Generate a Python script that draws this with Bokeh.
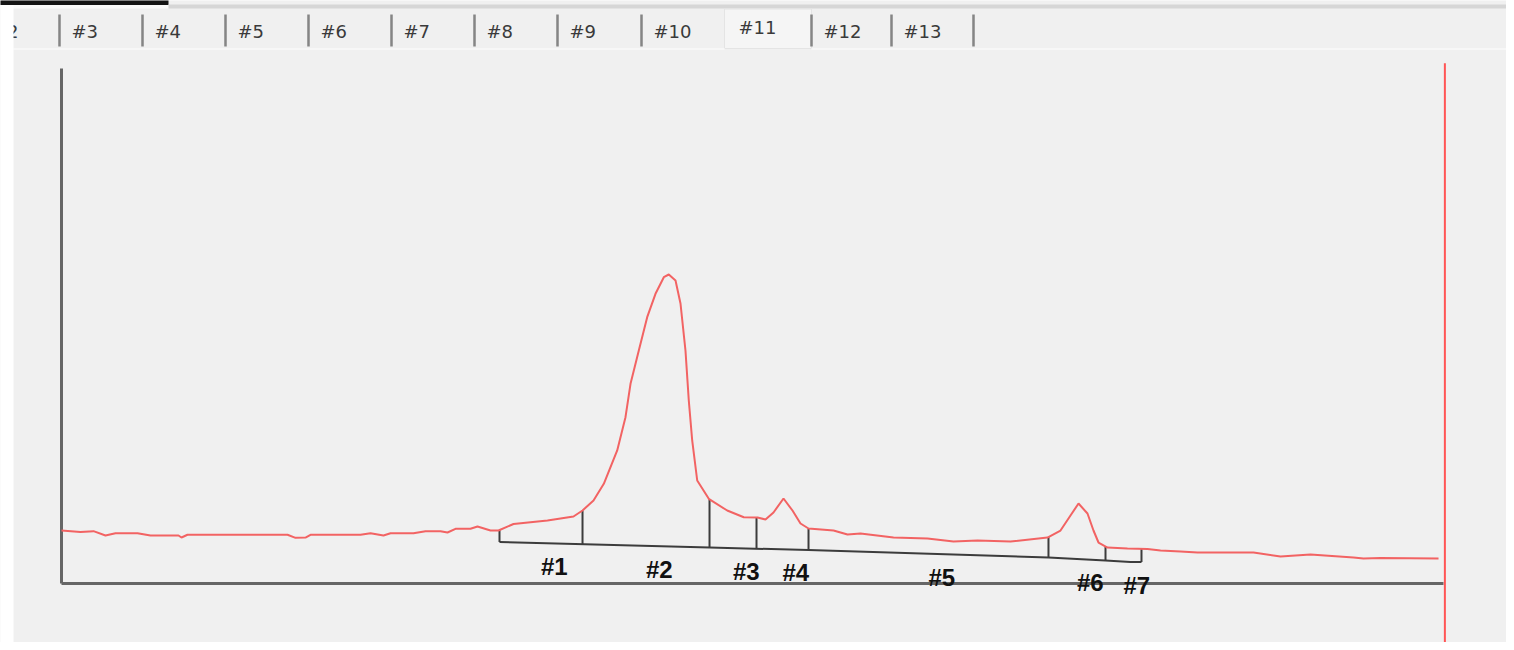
import numpy as np
from bokeh.plotting import figure
from bokeh.models import Range1d
from bokeh.core.properties import value
from bokeh.embed import file_html
from bokeh.resources import INLINE

# ---------------- data ----------------
# visible tab captions (the first one is cut by the window edge, only its "2" shows)
TAB_LABELS = ["2", "#3", "#4", "#5", "#6", "#7", "#8", "#9", "#10", "#11", "#12", "#13"]
SELECTED_TAB = "#11"

# chromatogram trace: time (min) and signal
TIME = [0.000, 0.412, 0.695, 0.955, 1.172, 1.650, 1.932, 2.540, 2.605, 2.735,
        4.906, 5.080, 5.297, 5.405, 6.491, 6.708, 6.990, 7.142, 7.641, 7.902,
        8.227, 8.379, 8.553, 8.878, 9.030, 9.313, 9.486, 9.812, 10.550, 11.114,
        11.310, 11.549, 11.772, 12.063, 12.243, 12.352, 12.532, 12.714, 12.894, 13.075,
        13.183, 13.329, 13.437, 13.545, 13.617, 13.691, 13.800, 14.051, 14.451, 14.811,
        15.109, 15.282, 15.456, 15.673, 15.868, 16.042, 16.216, 16.759, 17.062, 17.345,
        18.061, 18.799, 19.363, 19.884, 20.601, 21.404, 21.686, 21.903, 22.077, 22.272,
        22.402, 22.511, 22.706, 23.140, 23.574, 23.857, 24.291, 24.660, 25.876, 26.462,
        27.113, 28.046, 28.263, 28.632, 29.892]
SIGNAL = [10.29, 10.00, 10.16, 9.32, 9.77, 9.77, 9.32, 9.32, 8.93, 9.46,
          9.46, 8.87, 8.93, 9.46, 9.46, 9.77, 9.32, 9.77, 9.77, 10.16,
          10.16, 9.90, 10.62, 10.62, 11.07, 10.29, 10.29, 11.55, 12.23, 13.01,
          14.17, 16.12, 19.36, 25.83, 32.29, 38.78, 45.24, 51.71, 56.25, 59.48,
          60.00, 58.83, 54.37, 45.24, 35.53, 27.77, 20.00, 16.45, 14.17, 12.87,
          12.82, 12.43, 13.79, 16.50, 14.17, 11.65, 10.68, 10.29, 9.51, 9.71,
          8.93, 8.74, 8.16, 8.35, 8.16, 8.93, 10.29, 13.20, 15.53, 13.59,
          10.29, 7.96, 6.99, 6.80, 6.70, 6.41, 6.21, 6.02, 6.02, 5.24,
          5.63, 5.05, 4.85, 4.95, 4.85]

# integration baseline
BASE_T = [9.508, 14.067, 16.216, 21.425, 22.663, 23.205, 23.444]
BASE_S = [8.06, 6.99, 6.50, 5.05, 4.47, 4.17, 4.17]

# peak boundaries (drop lines) and peak names
PEAK_BOUNDS = [9.508, 11.310, 14.067, 15.087, 16.216, 21.425, 22.663, 23.444]
PEAK_LABELS = ["#1", "#2", "#3", "#4", "#5", "#6", "#7"]

T_END = 30.0
S_TOP = 100.0
CURSOR_T = 30.03
CURSOR_TOP = 101.0

# ---------------- layout ----------------
W, H = 1506, 642
ORIGIN_X, ORIGIN_Y = 61, 583      # pixel of (0, 0) from the picture's top-left
END_X, TOP_Y = 1443, 68           # pixel of (T_END, S_TOP)
KX = (END_X - ORIGIN_X) / T_END
KY = (ORIGIN_Y - TOP_Y) / S_TOP


def tx(X):
    return (X - ORIGIN_X) / KX


def sy(Y):
    return (ORIGIN_Y - Y) / KY


BG = "#f0f0f0"
p = figure(width=W, height=H, output_backend="svg", toolbar_location=None,
           x_range=Range1d(tx(0), tx(W)),
           y_range=Range1d(sy(H), sy(0)),
           x_axis_location=None, y_axis_location=None, title=None,
           min_border=0, min_border_left=0, min_border_right=0,
           min_border_top=0, min_border_bottom=0)
p.grid.visible = False
p.outline_line_color = None
p.background_fill_color = BG
p.border_fill_color = BG

# ---- window chrome: top bar and tab strip ----
p.quad(left=[tx(-5)], right=[tx(168)], top=[sy(-5)], bottom=[sy(4.5)],
       fill_color="#151515", line_color=None)
p.quad(left=[tx(-5)], right=[tx(168)], top=[sy(4.5)], bottom=[sy(8)],
       fill_color="#fbfbfb", line_color=None)
p.quad(left=[tx(168)], right=[tx(W + 5)], top=[sy(4)], bottom=[sy(8)],
       fill_color="#d6d6d6", line_color=None)

TAB_EDGES = [-21, 59, 142, 225, 308, 391, 474, 557, 641, 726, 811, 891, 973]
sel = TAB_LABELS.index(SELECTED_TAB)
p.quad(left=[tx(TAB_EDGES[sel] - 2)], right=[tx(TAB_EDGES[sel + 1])],
       top=[sy(8.5)], bottom=[sy(48)], fill_color="#f5f5f5",
       line_color="#e4e4e4", line_width=1)
p.line([tx(13), tx(TAB_EDGES[sel] - 2)], [sy(48.5), sy(48.5)], line_color="#fafafa", line_width=1.5)
p.line([tx(TAB_EDGES[sel + 1]), tx(W + 5)], [sy(48.5), sy(48.5)], line_color="#fafafa", line_width=1.5)

sep = [e for i, e in enumerate(TAB_EDGES) if i != sel]
p.segment(x0=[tx(e) for e in sep], y0=[sy(14)] * len(sep),
          x1=[tx(e) for e in sep], y1=[sy(46)] * len(sep),
          line_color="#858585", line_width=2.5)

tab_x = [tx(6.5)] + [tx(e + 12) for e in TAB_EDGES[1:-1]]
tab_y = [sy(27) if lab == SELECTED_TAB else sy(31) for lab in TAB_LABELS]
p.text(x=tab_x, y=tab_y, text=TAB_LABELS, text_align="left", text_baseline="middle",
       text_font=value("DejaVu Sans"), text_font_size="18px", text_color="#3a3a3a")

# white strip at the left edge of the window
p.quad(left=[tx(-5)], right=[tx(13)], top=[sy(4.5)], bottom=[sy(H + 10)],
       fill_color="white", line_color=None)

# ---- axes (drawn as plain lines, like the instrument software) ----
p.line([0, 0], [0, S_TOP], line_color="#666666", line_width=3)
p.line([0, T_END], [0, 0], line_color="#666666", line_width=3)

# ---- baseline and drop lines ----
p.line(BASE_T, BASE_S, line_color="#3c3c3c", line_width=2)
tops = np.interp(PEAK_BOUNDS, TIME, SIGNAL)
bots = np.interp(PEAK_BOUNDS, BASE_T, BASE_S)
p.segment(x0=PEAK_BOUNDS, y0=bots, x1=PEAK_BOUNDS, y1=tops,
          line_color="#3c3c3c", line_width=2)

# ---- trace ----
p.line(TIME, SIGNAL, line_color="#f26363", line_width=2)

# ---- peak labels ----
mids = [(a + b) / 2 for a, b in zip(PEAK_BOUNDS[:-1], PEAK_BOUNDS[1:])]
lab_y = np.interp(mids, BASE_T, BASE_S)
p.text(x=mids, y=lab_y, text=PEAK_LABELS, text_align="left", text_baseline="top",
       y_offset=10, text_font=value("Liberation Sans"), text_font_style="bold",
       text_font_size="24px", text_color="#111111")

# ---- cursor ----
p.segment(x0=[CURSOR_T], y0=[CURSOR_TOP], x1=[CURSOR_T], y1=[sy(H + 20)],
          line_color="#ff5555", line_width=2)

open("out.html", "w").write(file_html(p, INLINE))
